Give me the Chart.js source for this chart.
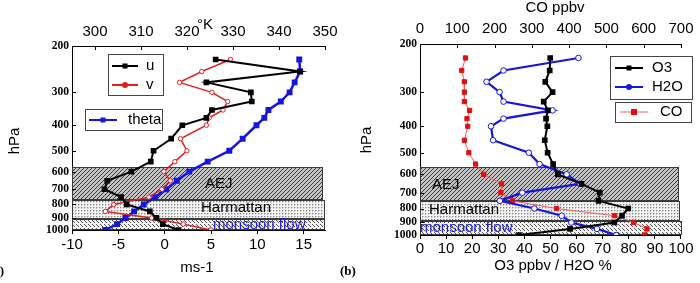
<!DOCTYPE html>
<html><head><meta charset="utf-8">
<script src="https://cdn.jsdelivr.net/npm/chart.js@4.4.0/dist/chart.umd.min.js"></script>
<style>
html,body{margin:0;padding:0;background:#fff;overflow:hidden}
#wrap{position:relative;width:700px;height:283px;background:#fff;overflow:hidden}
canvas{position:absolute;top:0}
.lab{position:absolute;font:bold 13px "Liberation Serif","Times New Roman",serif;color:#000;white-space:nowrap}
</style></head><body>
<div id="wrap">
<canvas id="ca" width="350" height="283" style="left:0"></canvas>
<canvas id="cb" width="350" height="283" style="left:350px"></canvas>
<span class="lab" style="right:696px;top:263px">(a)</span>
<span class="lab" style="left:340px;top:263px">(b)</span>
</div>
<script>
// ---------- data ----------
const pressureLevels = [225,250,275,300,325,350,375,400,450,500,550,600,650,700,750,800,850,900,950,1000];
const uWind  = [5.5,14.6,4.5,9.3,9.4,5.1,4.5,1.9,0.7,-1.2,-1.5,-3.6,-6.2,-6.5,-4.7,-4.1,-1.6,-0.9,-0.2,1.5];
const vWind  = [7.1,4.0,1.6,5.1,6.8,6.3,4.8,4.5,1.7,2.4,1.1,-0.1,0.6,-0.3,-1.7,-5.5,-6.4,-1.4,2.0,5.0];
const theta  = [344.4,344.6,343.4,342.3,340.4,337.7,336.8,335.1,332.1,329.2,324.5,320.5,317.8,315.5,313.1,310.6,308.5,306.6,304.8,302.2];
const ozone  = [49.9,49.7,48.0,50.8,47.4,49.0,48.3,48.8,47.8,48.9,51.0,52.8,61.9,68.9,68.4,79.8,77.4,74.5,57.5,37.9];
const water  = [60.7,32.0,25.5,30.5,32.0,50.8,32.0,27.2,28.0,41.7,45.8,56.2,61.3,39.2,30.6,43.8,54.3,58.0,67.8,75.2];
const carbonMonoxide = [122,112,119,119,119,133,126,128,119,131,149,171,219,217,248,366,522,573,609,602];

const pressureTicks = [200,300,400,500,600,700,800,900,1000];
const windTicks  = [-10,-5,0,5,10,15];
const thetaTicks = [300,310,320,330,340,350];
const pctTicks   = [0,10,20,30,40,50,60,70,80,90,100];
const coTicks    = [0,100,200,300,400,500,600,700];

const bandNames = ['AEJ','Harmattan','monsoon flow'];
const bandsA = [[578,770],[770,911],[911,1000]];
const bandsB = [[565,750],[750,890],[890,1000]];

// ---------- helpers ----------
const SANS = '"Liberation Sans", Arial, sans-serif';
const SERIF = '"Liberation Serif", "Times New Roman", serif';
Chart.defaults.font.family = SANS;
Chart.defaults.color = '#000';

const pts = (xs) => xs.map((v,i)=>({x:v, y:pressureLevels[i]}));

function tilePattern(ctx, kind){
  const c = document.createElement('canvas');
  const g = c.getContext('2d');
  if (kind===0){ c.width=4;c.height=4; g.fillStyle='#c2c2c2'; g.fillRect(0,0,4,4); g.fillStyle='#3c3c3c'; for(let i=0;i<4;i++) g.fillRect(3-i,i,1,1); }
  else if (kind===1){ c.width=3;c.height=3; g.fillStyle='#f4f4f4'; g.fillRect(0,0,3,3); g.fillStyle='#8a8a8a'; g.fillRect(0,0,1,1); g.fillStyle='#c8c8c8'; g.fillRect(1,0,1,1); g.fillRect(0,1,1,1);}
  else { c.width=4;c.height=4; g.fillStyle='#f2f2f2'; g.fillRect(0,0,4,4); g.fillStyle='#555'; g.fillRect(0,0,1,1); g.fillRect(1,1,1,1); g.fillRect(2,2,1,1);}
  return ctx.createPattern(c,'repeat');
}

function drawMarker(ctx, kind, x, y, r, color){
  ctx.save();
  if (kind==='rect'){ ctx.fillStyle=color; ctx.fillRect(x-r,y-r,2*r,2*r); }
  else if (kind==='circle'){ ctx.fillStyle=color; ctx.beginPath(); ctx.arc(x,y,r,0,Math.PI*2); ctx.fill(); }
  ctx.restore();
}
function legendItem(ctx, x1, x2, y, color, lw, mk, mcolor, mr, text, tx){
  ctx.save();
  ctx.strokeStyle=color; ctx.lineWidth=lw;
  ctx.beginPath(); ctx.moveTo(x1,y); ctx.lineTo(x2,y); ctx.stroke();
  drawMarker(ctx, mk, (x1+x2)/2, y, mr, mcolor);
  ctx.fillStyle='#000'; ctx.font='15px '+SANS; ctx.textBaseline='middle'; ctx.textAlign='left';
  ctx.fillText(text, tx, y);
  ctx.restore();
}
function boxRect(ctx,x,y,w,h){ ctx.save(); ctx.strokeStyle='#444'; ctx.lineWidth=1; ctx.strokeRect(x+0.5,y+0.5,w,h); ctx.restore(); }
function text(ctx,s,x,y,opt){
  ctx.save(); ctx.font=(opt&&opt.font)||('15px '+SANS); ctx.fillStyle=(opt&&opt.color)||'#000';
  ctx.textAlign=(opt&&opt.align)||'center'; ctx.textBaseline='middle';
  if (opt&&opt.rot){ ctx.translate(x,y); ctx.rotate(opt.rot); ctx.fillText(s,0,0);} else ctx.fillText(s,x,y);
  ctx.restore();
}

function makeOverlay(name, bands, bandRightOffsets, labelPos, extra){
  return {
    id:'ov'+name,
    beforeDatasetsDraw(chart){
      const {ctx, chartArea:a, scales:{y}} = chart;
      bands.forEach((b,i)=>{
        const y1=Math.round(y.getPixelForValue(b[0])), y2=Math.round(y.getPixelForValue(b[1]));
        const r=a.right+bandRightOffsets[i];
        ctx.save();
        ctx.fillStyle=tilePattern(ctx,i);
        ctx.fillRect(a.left,y1,r-a.left,y2-y1);
        ctx.strokeStyle='#3a3a3a'; ctx.lineWidth=1;
        ctx.strokeRect(a.left+0.5,y1+0.5,r-a.left-1,y2-y1-1);
        ctx.restore();
      });
      bandNames.forEach((s,i)=>{
        text(ctx,s,labelPos[i][0],labelPos[i][1],{align:'left',color:i===2?'#1a1ae6':'#000'});
      });
    },
    afterDraw(chart){
      const {ctx, chartArea:a, scales} = chart;
      ctx.save(); ctx.strokeStyle='#000'; ctx.lineWidth=1;
      scales.y.ticks.forEach(t=>{ const py=Math.round(scales.y.getPixelForValue(t.value))+0.5; ctx.beginPath(); ctx.moveTo(a.left,py); ctx.lineTo(a.left+4,py); ctx.stroke(); });
      scales.x2.ticks.forEach(t=>{ const px=Math.round(scales.x2.getPixelForValue(t.value))+0.5; ctx.beginPath(); ctx.moveTo(px,a.top); ctx.lineTo(px,a.top+4); ctx.stroke(); });
      ctx.restore();
      extra(ctx, chart);
    }
  };
}

function axisCfg(min,max,ticksArr,pos,h,pad){
  return {type:'linear', position:pos, min, max,
    afterBuildTicks:s=>{ s.ticks = ticksArr.map(v=>({value:v})); },
    afterFit:s=>{ s.height=h; },
    ticks:{font:{size:15}, color:'#000', padding:pad, maxRotation:0, autoSkip:false, callback:v=>String(v)},
    grid:{drawOnChartArea:false, drawTicks:pos==='bottom', tickLength:4, color:'#000'},
    border:{color:'#000', width:1}};
}
function yCfg(w,pad){
  return {type:'logarithmic', reverse:true, min:200, max:1000, position:'left',
    afterBuildTicks:s=>{ s.ticks = pressureTicks.map(v=>({value:v})); },
    afterFit:s=>{ s.width=w; },
    ticks:{font:{size:11.5, weight:'bold', family:SERIF}, color:'#000', padding:pad, autoSkip:false, callback:v=>String(v)},
    grid:{drawOnChartArea:false, drawTicks:false, color:'#000'},
    border:{color:'#000', width:1}};
}

// ---------- chart (a) ----------
new Chart(document.getElementById('ca'), {
  type:'scatter',
  data:{datasets:[
    {label:'u', data:pts(uWind), showLine:true, borderColor:'#000', backgroundColor:'#000', borderWidth:2, pointStyle:'rect', pointRadius:2.6, xAxisID:'x'},
    {label:'v', data:pts(vWind), showLine:true, borderColor:'#e02020', backgroundColor:'#fff', borderWidth:1.5, pointStyle:'circle', pointRadius:2.2, pointBorderWidth:1, xAxisID:'x'},
    {label:'theta', data:pts(theta), showLine:true, borderColor:'#1515e0', backgroundColor:'#1515e0', borderWidth:2.5, pointStyle:'rect', pointRadius:2.4, xAxisID:'x2'}
  ]},
  options:{responsive:false, animation:false, devicePixelRatio:1,
    layout:{padding:{left:0,right:25,top:0,bottom:0}},
    plugins:{legend:{display:false}, tooltip:{enabled:false}},
    scales:{
      x: axisCfg(-10,17.3,windTicks,'bottom',53,2),
      x2: axisCfg(295,350,thetaTicks,'top',46,5),
      y: yCfg(72,3)
    }},
  plugins:[makeOverlay('a', bandsA, [-2,0,0], [[205,184],[201,208],[213,225]], (ctx)=>{
    boxRect(ctx,108,54,55,41);
    legendItem(ctx,112,138,66,'#000',2,'rect','#000',2.5,'u',146);
    legendItem(ctx,112,138,85,'#e02020',2,'circle','#e02020',3,'v',146);
    boxRect(ctx,85,109,77,21);
    legendItem(ctx,89,117,120,'#1515e0',2,'rect','#1515e0',2.5,'theta',128);
    text(ctx,'hPa',15,141,{rot:-Math.PI/2});
    text(ctx,'ms-1',197,268);
    text(ctx,'\u00B0K',197,25,{align:'left'});
  })]
});

// ---------- chart (b) ----------
new Chart(document.getElementById('cb'), {
  type:'scatter',
  data:{datasets:[
    {label:'O3', data:pts(ozone), showLine:true, borderColor:'#000', backgroundColor:'#000', borderWidth:2, pointStyle:'rect', pointRadius:2.6, xAxisID:'x'},
    {label:'H2O', data:pts(water), showLine:true, borderColor:'#1515e0', backgroundColor:'#fff', borderWidth:2.2, pointStyle:'circle', pointRadius:2.8, pointBorderWidth:1, xAxisID:'x'},
    {label:'CO', data:pts(carbonMonoxide), showLine:true, borderColor:'#f06060', backgroundColor:'#e01010', borderWidth:1, pointStyle:'rect', pointRadius:3, pointBorderColor:'#e01010', xAxisID:'x2'}
  ]},
  options:{responsive:false, animation:false, devicePixelRatio:1,
    layout:{padding:{left:0,right:16,top:0,bottom:0}},
    plugins:{legend:{display:false}, tooltip:{enabled:false}},
    scales:{
      x: axisCfg(0,100,pctTicks,'bottom',48,0.5),
      x2: axisCfg(0,700,coTicks,'top',44,6.5),
      y: yCfg(70,3)
    }},
  plugins:[makeOverlay('b', bandsB, [-2,-1,1], [[82,185],[79,210],[70,228]], (ctx)=>{
    boxRect(ctx,260,56,82,43);
    legendItem(ctx,265,293,68,'#000',2,'rect','#000',2.5,'O3',302);
    legendItem(ctx,265,293,87,'#1515e0',2,'circle','#1515e0',3,'H2O',302);
    boxRect(ctx,265,102,76,20);
    legendItem(ctx,270,298,112,'#f06060',1,'rect','#e01010',3,'CO',310);
    text(ctx,'hPa',17,140,{rot:-Math.PI/2});
    text(ctx,'O3 ppbv / H2O %',203,266);
    text(ctx,'CO ppbv',205,8);
  })]
});
</script>
</body></html>
